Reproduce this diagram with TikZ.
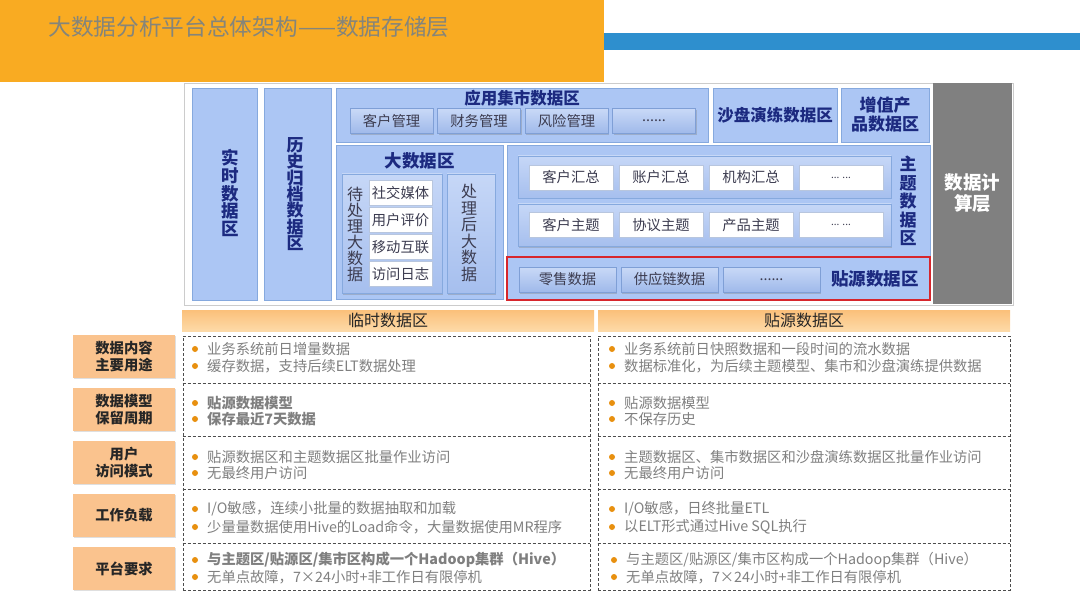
\documentclass[tikz,border=0pt]{standalone}
\usepackage{fontspec}
\setmainfont{Noto Sans CJK SC}
\usetikzlibrary{shadows, positioning}

\definecolor{headorange}{HTML}{F9AB22}
\definecolor{titlegray}{HTML}{85857A}
\definecolor{barblue}{HTML}{2E8FCE}
\definecolor{zonefill}{HTML}{ACC6F4}
\definecolor{zoneline}{HTML}{86A9DE}
\definecolor{traytop}{HTML}{C6D7F7}
\definecolor{traybot}{HTML}{A6BFEE}
\definecolor{btntop}{HTML}{C9D9F7}
\definecolor{btnbot}{HTML}{9FB9EA}
\definecolor{btnline}{HTML}{7F9FD6}
\definecolor{cellline}{HTML}{B8C6DE}
\definecolor{navy}{HTML}{1C2A80}
\definecolor{btntext}{HTML}{3C3C50}
\definecolor{calcgray}{HTML}{808080}
\definecolor{srcred}{HTML}{D7262C}
\definecolor{striptop}{HTML}{FBC07A}
\definecolor{stripbot}{HTML}{FDDAA8}
\definecolor{labfill}{HTML}{FAC38E}
\definecolor{labtext}{HTML}{262626}
\definecolor{txtgray}{HTML}{7F7F7F}
\definecolor{dotc}{HTML}{E8900F}
\definecolor{dashc}{HTML}{4D4D4D}

% bullet line: name, x, y, text
\newcommand{\bitem}[4]{%
  \fill[dotc] (#2-12,#3) circle (3pt);
  \node[txt] (#1) at (#2,#3) {#4};}
\newcommand{\moredots}{......}
\newcommand{\gapdots}{{\fontsize{10}{12}\selectfont ... ...}}

\begin{document}
\begin{tikzpicture}[
    x=1pt, y=-1pt,
    zone/.style={rectangle, draw=zoneline, fill=zonefill, inner sep=0pt},
    tray/.style={rectangle, draw=zoneline, top color=traytop, bottom color=traybot, inner sep=0pt,
        drop shadow={shadow xshift=1pt, shadow yshift=-1.5pt, opacity=.35}},
    btn/.style={rectangle, draw=btnline, top color=btntop, bottom color=btnbot, inner sep=0pt,
        minimum height=25pt, text=btntext, font=\fontsize{14.3}{16}\selectfont,
        drop shadow={shadow xshift=1pt, shadow yshift=-1.5pt, opacity=.35}},
    cell/.style={rectangle, draw=cellline, fill=white, inner sep=0pt,
        minimum height=25pt, text=btntext, font=\fontsize{14.3}{16}\selectfont},
    ztitle/.style={inner sep=0pt, align=center, text=navy, font=\bfseries\fontsize{16.5}{18}\selectfont},
    vtext/.style={inner sep=0pt, align=center},
    strip/.style={rectangle, top color=striptop, bottom color=stripbot, inner sep=0pt,
        minimum height=21pt, text=labtext, font=\fontsize{16}{18}\selectfont},
    rowlab/.style={rectangle, fill=labfill, inner sep=0pt, minimum width=102pt, minimum height=43pt,
        align=center, text=labtext, font=\bfseries\fontsize{14.3}{17}\selectfont,
        drop shadow={shadow xshift=.8pt, shadow yshift=-.8pt, opacity=.25}},
    dashbox/.style={rectangle, draw=dashc, dash pattern=on 3pt off 2pt, thick, inner sep=0pt},
    sepline/.style={draw=dashc, dash pattern=on 3pt off 2pt, thick},
    txt/.style={anchor=west, inner sep=0pt, text=txtgray, font=\fontsize{14.3}{16}\selectfont}
]
\useasboundingbox (0,0) rectangle (1080,607);

% header
\node[rectangle, fill=headorange, inner sep=0pt, minimum width=604pt, minimum height=82pt] (head) at (302,41) {};
\node[rectangle, fill=barblue, inner sep=0pt, minimum width=476pt, minimum height=17pt] (bar) at (842,41.5) {};
\node[inner sep=0pt, text=titlegray, font=\fontsize{22.7}{26}\selectfont] (title) at (249,27) {大数据分析平台总体架构——数据存储层};

% architecture panel
\node[rectangle, draw=black!20, fill=white, inner sep=0pt, minimum width=829pt, minimum height=222pt] (frame) at (598.5,194) {};
\node[rectangle, fill=calcgray, inner sep=0pt, minimum width=79pt, minimum height=221pt,
    text=white, align=center, font=\bfseries\fontsize{18.5}{21}\selectfont] (calc) at (972.5,193.5) {数据计\\算层};

\node[zone, minimum width=65pt, minimum height=212pt] (realtime) at (224.5,194) {};
\node[ztitle, font=\bfseries\fontsize{17.5}{17.8}\selectfont] (realtimet) at (230,193) {实\\时\\数\\据\\区};
\node[zone, minimum width=67pt, minimum height=212pt] (archive) at (297.5,194) {};
\node[ztitle, font=\bfseries\fontsize{17}{16.4}\selectfont] (archivet) at (295,194) {历\\史\\归\\档\\数\\据\\区};

% app mart zone
\node[zone, minimum width=372pt, minimum height=54pt] (mart) at (522,115) {};
\node[ztitle] (martt) at (522,98) {应用集市数据区};
\foreach \t [count=\i] in {客户管理, 财务管理, 风险管理, \moredots}
    \node[btn, minimum width=83pt] (mart\i) at (391.5+87.5*\i-87.5,121) {\t};

\node[zone, minimum width=124pt, minimum height=54pt] (sandbox) at (775,115) {};
\node[ztitle] (sandboxt) at (775,115) {沙盘演练数据区};
\node[zone, minimum width=88pt, minimum height=54pt] (value) at (885,115) {};
\node[ztitle, font=\bfseries\fontsize{17}{19}\selectfont] (valuet) at (885,115) {增值产\\品数据区};

% big data zone
\node[zone, minimum width=167pt, minimum height=154pt] (bigdata) at (419.5,222) {};
\node[ztitle, font=\bfseries\fontsize{17.5}{19}\selectfont] (bigdatat) at (419.5,161) {大数据区};
\node[tray, minimum width=100pt, minimum height=119pt] (raw) at (392,233.5) {};
\node[vtext, text=btntext, font=\fontsize{16}{16}\selectfont] (rawt) at (355,234) {待\\处\\理\\大\\数\\据};
\foreach \t [count=\i] in {社交媒体, 用户评价, 移动互联, 访问日志}
    \node[cell, minimum width=63pt] (raw\i) at (400.5,193+27*\i-27) {\t};
\node[tray, minimum width=48pt, minimum height=119pt] (done) at (471,233.5) {};
\node[vtext, text=btntext, font=\fontsize{16}{16.5}\selectfont] (donet) at (469,233) {处\\理\\后\\大\\数\\据};

% subject zone
\node[zone, minimum width=423pt, minimum height=155pt] (subject) at (718.5,222.5) {};
\node[ztitle, font=\bfseries\fontsize{17}{18.6}\selectfont] (subjectt) at (908,201) {主\\题\\数\\据\\区};
\node[tray, minimum width=373pt, minimum height=42pt] (sumrow) at (704.5,177) {};
\foreach \t [count=\i] in {客户汇总, 账户汇总, 机构汇总, \gapdots}
    \node[cell, minimum width=84pt] (sum\i) at (571+90*\i-90,177.5) {\t};
\node[tray, minimum width=373pt, minimum height=42pt] (toprow) at (704.5,225) {};
\foreach \t [count=\i] in {客户主题, 协议主题, 产品主题, \gapdots}
    \node[cell, minimum width=84pt] (top\i) at (571+90*\i-90,225) {\t};

% source zone
\node[rectangle, draw=srcred, line width=1.5pt, fill=zonefill, inner sep=0pt,
    minimum width=423pt, minimum height=43pt] (source) at (718.5,278.5) {};
\foreach \t [count=\i] in {零售数据, 供应链数据, \moredots}
    \node[btn, minimum width=97pt] (src\i) at (567.5+102*\i-102,279.5) {\t};
\node[ztitle, font=\bfseries\fontsize{17.5}{19}\selectfont] (sourcet) at (875,279) {贴源数据区};

% comparison table
\node[strip, minimum width=412pt] (tmphead) at (388,320.5) {临时数据区};
\node[strip, minimum width=412pt] (srchead) at (804,320.5) {贴源数据区};

\node[rowlab] (lab1) at (124,356.5) {数据内容\\主要用途};
\node[rowlab] (lab2) at (124,409.5) {数据模型\\保留周期};
\node[rowlab] (lab3) at (124,462.5) {用户\\访问模式};
\node[rowlab] (lab4) at (124,515.5) {工作负载};
\node[rowlab] (lab5) at (124,568.5) {平台要求};

\node[dashbox, minimum width=407pt, minimum height=254pt] (tmpbox) at (386.5,463) {};
\node[dashbox, minimum width=412pt, minimum height=254pt] (srcbox) at (804,463) {};
\foreach \y in {383,436,489,543} {
    \draw[sepline] (tmpbox.west |- 0,\y) -- (tmpbox.east |- 0,\y);
    \draw[sepline] (srcbox.west |- 0,\y) -- (srcbox.east |- 0,\y);
}

% temporary zone texts
\bitem{t11}{207}{349}{业务系统前日增量数据}
\bitem{t12}{207}{366}{缓存数据，支持后续ELT数据处理}
\bitem{t21}{207}{403}{\bfseries 贴源数据模型}
\bitem{t22}{207}{419}{\bfseries 保存最近7天数据}
\bitem{t31}{207}{457}{贴源数据区和主题数据区批量作业访问}
\bitem{t32}{207}{473}{无最终用户访问}
\bitem{t41}{207}{509}{I/O敏感，连续小批量的数据抽取和加载}
\bitem{t42}{207}{527}{少量量数据使用Hive的Load命令，大量数据使用MR程序}
\bitem{t51}{207}{560}{\bfseries 与主题区/贴源区/集市区构成一个Hadoop集群（Hive）}
\bitem{t52}{207}{577}{无单点故障，7×24小时+非工作日有限停机}

% source zone texts
\bitem{s11}{624}{349}{业务系统前日快照数据和一段时间的流水数据}
\bitem{s12}{624}{366}{数据标准化，为后续主题模型、集市和沙盘演练提供数据}
\bitem{s21}{624}{403}{贴源数据模型}
\bitem{s22}{624}{419}{不保存历史}
\bitem{s31}{624}{457}{主题数据区、集市数据区和沙盘演练数据区批量作业访问}
\bitem{s32}{624}{473}{无最终用户访问}
\bitem{s41}{624}{509}{I/O敏感，日终批量ETL}
\bitem{s42}{624}{527}{以ELT形式通过Hive SQL执行}
\bitem{s51}{626}{560}{与主题区/贴源区/集市区构成一个Hadoop集群（Hive）}
\bitem{s52}{626}{577}{无单点故障，7×24小时+非工作日有限停机}

\end{tikzpicture}
\end{document}
